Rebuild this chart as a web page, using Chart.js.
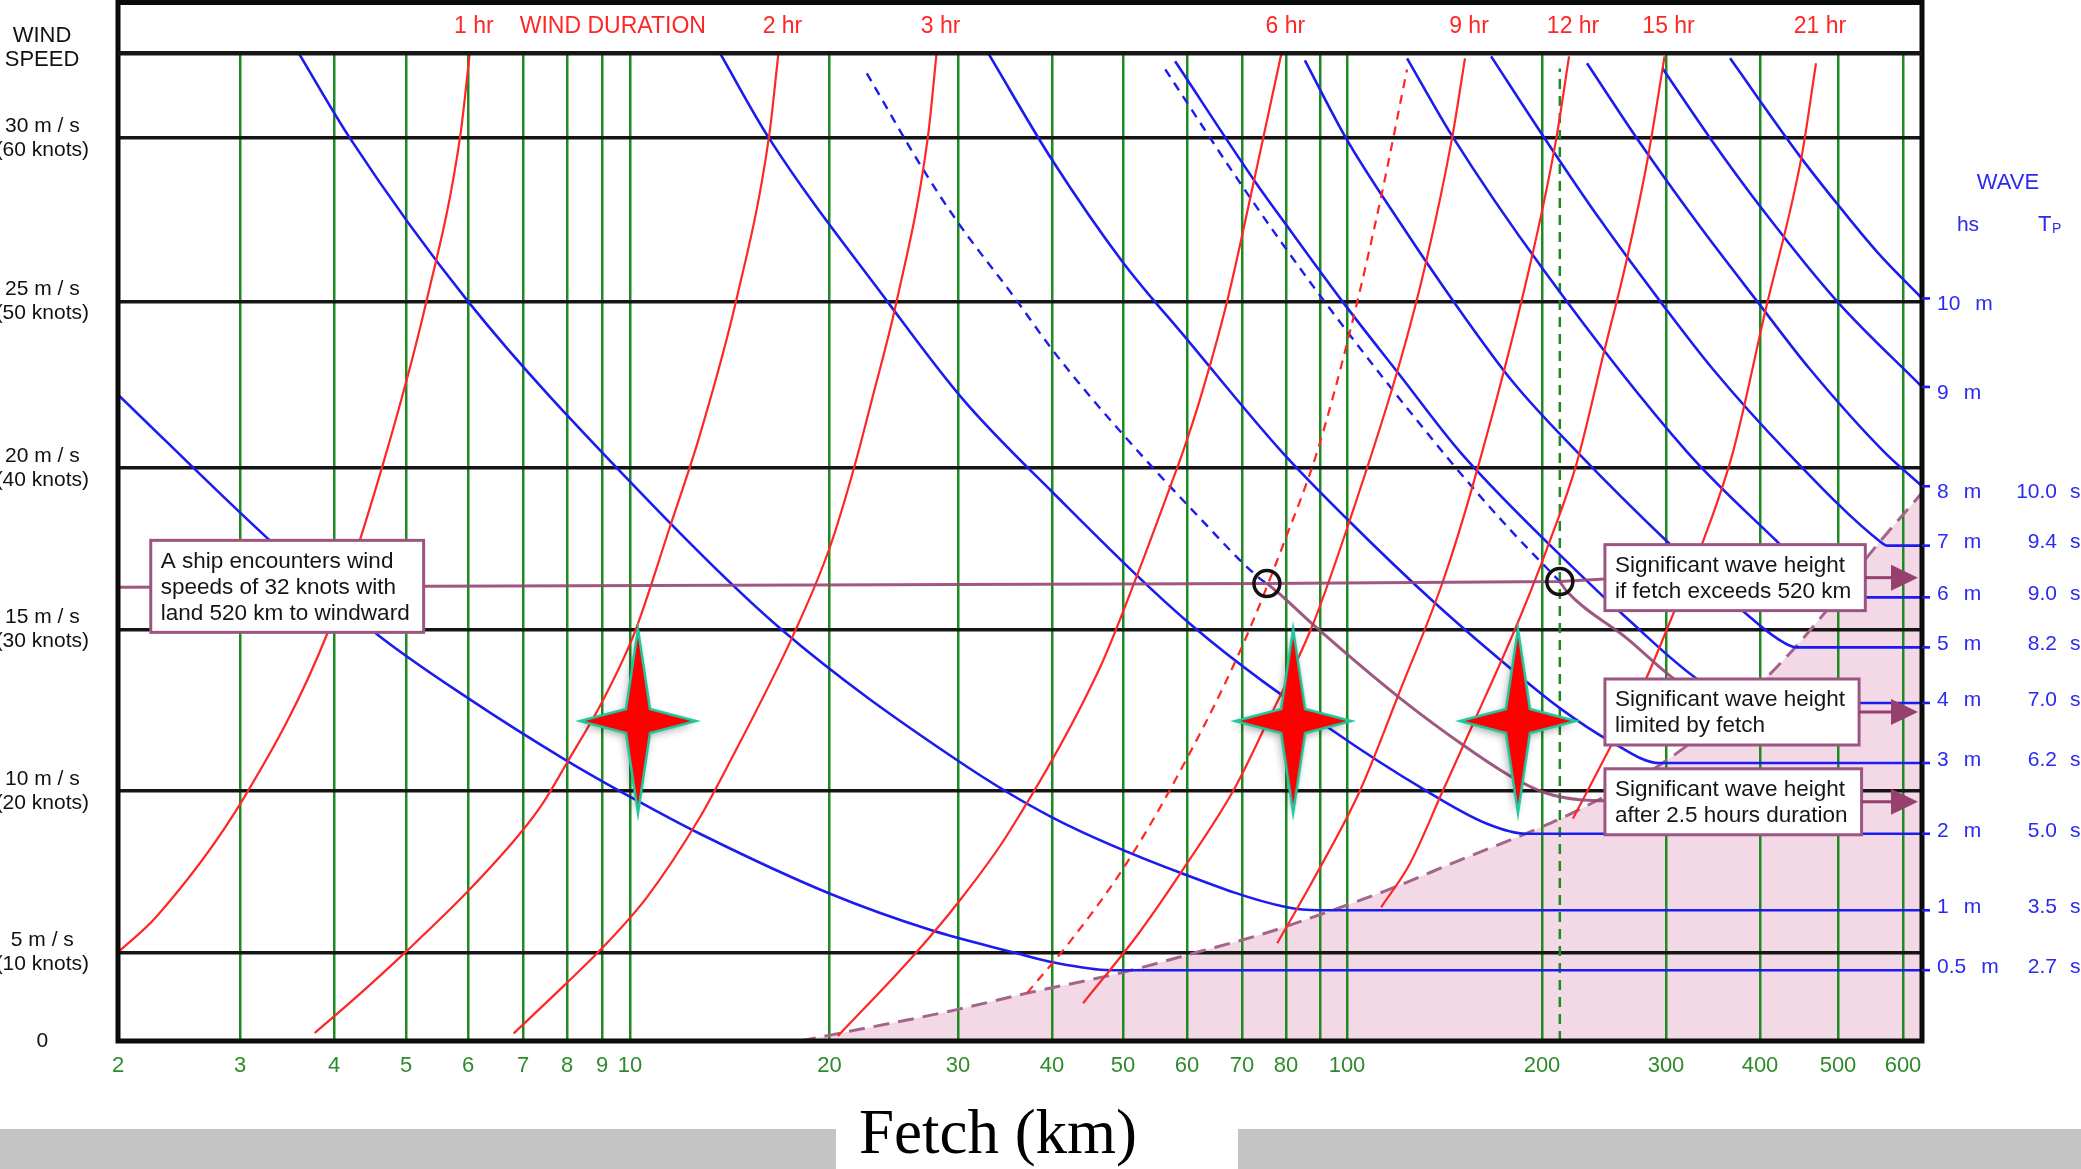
<!DOCTYPE html>
<html>
<head>
<meta charset="utf-8">
<title>Wave forecasting nomogram</title>
<style>
  html, body { margin: 0; padding: 0; background: #fff; overflow: hidden; }
  canvas { display: block; background: #fff; }
</style>
<script src="https://cdn.jsdelivr.net/npm/chart.js"></script>
</head>
<body>
<canvas id="nomogram" width="2081" height="1169" style="width:2081px;height:1169px"></canvas>
<script>
// ---------------------------------------------------------------------------
// Axis ticks
// ---------------------------------------------------------------------------
const FETCH_TICKS = [2, 3, 4, 5, 6, 7, 8, 9, 10, 20, 30, 40, 50, 60, 70, 80, 90, 100, 200, 300, 400, 500, 600];
const FETCH_TICK_LABELS = ['2', '3', '4', '5', '6', '7', '8', '9', '10', '20', '30', '40', '50', '60', '70', '80', '', '100', '200', '300', '400', '500', '600'];
const WIND_TICKS = [0, 5, 10, 15, 20, 25, 30];
const WIND_TICK_KNOTS = [0, 10, 20, 30, 40, 50, 60];

// ---------------------------------------------------------------------------
// Significant wave height isolines, [fetch km, wind m/s]
// ---------------------------------------------------------------------------
const WAVE_HEIGHTS = [0.5, 1, 2, 3, 4, 5, 6, 7, 8, 9, 10];
const PEAK_PERIODS = [2.7, 3.5, 5.0, 6.2, 7.0, 8.2, 9.0, 9.4, 10.0, null, null];

const HS_05 = [[2, 22.2], [3.27, 17.8], [4.57, 14.85], [6.0, 12.87], [8.0, 10.93], [10.14, 9.75], [12.75, 8.67], [20, 6.82], [27.6, 5.68], [35.5, 5.0], [40, 4.44], [48.1, 3.99], [60, 3.99], [633, 3.99]];
const HS_1 = [[3.59, 32.6], [4.2, 30], [6, 25], [10, 19.57], [16.84, 15.03], [30, 10.93], [40, 9.18], [59.2, 7.44], [80, 6.4], [90, 6.3], [100, 6.3], [633, 6.3]];
const HS_2 = [[13.67, 32.6], [16.2, 30], [24.0, 25.0], [30.5, 22.04], [40, 19.26], [61.4, 15.03], [94.8, 11.85], [131.2, 10.05], [164.5, 8.98], [189, 8.67], [215, 8.67], [633, 8.67]];
const HS_3 = [[32.9, 32.6], [40, 29.33], [50, 26.19], [60, 23.86], [79, 20.48], [101, 18.33], [135.9, 15.86], [178.5, 13.8], [212, 12.56], [249.8, 11.54], [294, 10.86], [330, 10.86], [633, 10.86]];
const HS_4 = [[58.0, 32.35], [73.0, 28.63], [80, 27.35], [98.5, 24.97], [120.7, 22.78], [149.4, 20.48], [226.5, 16.7], [264, 15.34], [332.9, 13.4], [382, 12.72], [420, 12.72], [633, 12.72]];
const HS_5 = [[85.4, 32.38], [100, 29.94], [120.7, 27.41], [145.3, 25.06], [180.5, 22.57], [224.3, 20.48], [301, 17.72], [384.4, 15.46], [420, 14.72], [444.6, 14.44], [480, 14.44], [633, 14.44]];
const HS_6 = [[123.8, 32.44], [145.3, 30.06], [200.7, 25.98], [319.9, 20.48], [420, 17.72], [497.2, 15.99], [540, 15.99], [633, 15.99]];
const HS_7 = [[166.9, 32.5], [200.7, 30.06], [241.8, 27.5], [295.1, 24.97], [346.4, 22.96], [432.1, 20.48], [562.6, 17.72], [573.7, 17.59], [633, 17.59]];
const HS_8 = [[231.7, 32.29], [275.5, 29.85], [329.9, 27.41], [397.5, 24.97], [461.5, 22.96], [569, 20.48], [633, 19.43]];
const HS_9 = [[296.7, 32.13], [343.2, 30], [405.8, 27.71], [500, 24.97], [633, 22.43]];
const HS_10 = [[365, 32.44], [448, 29.45], [500.8, 27.93], [558.9, 26.49], [633, 25.09]];
const HS_CURVES = [HS_05, HS_1, HS_2, HS_3, HS_4, HS_5, HS_6, HS_7, HS_8, HS_9, HS_10];

// intermediate (dashed) wave height lines
const HS_DASH_A = [[22.5, 31.98], [26.9, 29.02], [30.0, 27.41], [35.5, 25.18], [40, 23.56], [45.5, 22.04], [53.2, 20.27], [60.7, 18.73], [73.9, 16.57], [75.5, 16.42]];
const HS_DASH_B = [[56.4, 32.1], [70.6, 28.41], [90, 25.18], [141.7, 20.39], [177.9, 18.12], [212, 16.48]];

// ---------------------------------------------------------------------------
// Wind duration lines, [fetch km, wind m/s]
// ---------------------------------------------------------------------------
const DURATION_LABELS = ['1 hr', '2 hr', '3 hr', '6 hr', '9 hr', '12 hr', '15 hr', '21 hr'];
const DUR_1H = [[2, 5.0], [2.27, 6.09], [3.03, 9.75], [3.93, 14.94], [4.64, 20.0], [5.31, 25], [5.86, 30], [6.03, 32.6]];
const DUR_2H = [[3.77, 0.45], [4.24, 2.30], [5.0, 5.02], [6.01, 6.91], [6.99, 8.77], [7.47, 9.69], [8.0, 10.87], [9.02, 12.78], [10.14, 14.85], [11.47, 18.13], [12.75, 20.99], [14.44, 24.97], [16.2, 30], [16.75, 32.6]];
const DUR_3H = [[6.82, 0.43], [7.94, 3.15], [8.94, 5.06], [10.61, 6.71], [12.75, 9.18], [14.0, 10.72], [17.66, 14.85], [20, 17.51], [21.6, 19.98], [22.86, 22.04], [24.7, 24.97], [27.27, 30], [28.04, 32.6]];
const DUR_6H = [[20.54, 0.28], [25.95, 4.72], [29.94, 6.51], [34.96, 8.67], [46.5, 13.81], [52.1, 16.7], [57.4, 19.52], [59.3, 20.48], [62.2, 22.04], [67.1, 24.97], [72.5, 28.63], [78.9, 32.6]];
const DUR_9H = [[44.1, 2.13], [52.3, 5.59], [60, 7.75], [68.3, 10], [74.6, 11.85], [87.8, 15.15], [100, 18.12], [120.7, 23.17], [132.4, 26.19], [145.3, 30], [152.1, 32.44]];
const DUR_12H = [[77.9, 5.28], [87.8, 7.22], [104.7, 10], [120.7, 13.09], [140.6, 16.48], [156.5, 19.48], [191.6, 26.1], [209.4, 29.94], [218.5, 32.5]];
const DUR_15H = [[112.9, 6.39], [125.1, 7.75], [140.6, 10], [156.5, 12.07], [183, 15.15], [203.3, 17.5], [224.3, 20.18], [244.9, 23.47], [263.3, 26.19], [282.4, 29.33], [298.6, 32.5]];
const DUR_21H = [[221.3, 9.14], [249.8, 11.33], [280.1, 13.4], [306.5, 15.46], [336, 17.72], [368.3, 20.48], [405.8, 24.67], [450.7, 29.45], [469.5, 32.29]];
const DUR_CURVES = [DUR_1H, DUR_2H, DUR_3H, DUR_6H, DUR_9H, DUR_12H, DUR_15H, DUR_21H];
const DUR_DASH = [[37.06, 2.70], [42.46, 5.37], [50.1, 7.62], [57.7, 10.22], [69.6, 14.32], [80.3, 17.93], [89.1, 20.48], [101, 24.07], [112.4, 28.02], [123.8, 32.1]];

// fully developed sea limit
const FULLY_DEVELOPED = [[18.05, 0], [29.68, 1.74], [37.06, 2.70], [49.4, 3.82], [61.7, 5.0], [75.1, 5.59], [91.1, 6.2], [114.9, 6.91], [148.8, 7.84], [198.6, 8.86], [224, 9.38], [300, 10.93], [403.4, 13.4], [483.2, 15.56], [540.8, 17.19], [633, 19.23]];

// ---------------------------------------------------------------------------
// Worked example
// ---------------------------------------------------------------------------
const WIND_32KT = [[2, 16.3], [75.5, 16.42], [212, 16.48], [246, 16.56]];
const CHECK_POINTS = [[75.5, 16.42], [212, 16.48]];
const FETCH_LIMIT_PATH = [[212, 16.48], [217, 16.17], [264, 14.72], [306.5, 13.49], [325, 13.1]];
const DURATION_PATH = [[75.5, 16.42], [78.6, 16.08], [87.8, 15.15], [120.7, 12.87], [153.2, 11.33], [178.5, 10.46], [202, 9.94], [226.5, 9.72], [247.3, 9.69]];
const FETCH_GUIDE = [[212, 0], [212, 32.13]];
const STAR_POINTS = [[10.28, 12.16], [82, 12.16], [183.6, 12.16]];

const NOTE_SHIP = ['A ship encounters wind', 'speeds of 32 knots with', 'land 520 km to windward'];
const NOTE_FETCH = ['Significant wave height', 'if fetch exceeds 520 km'];
const NOTE_LIMIT = ['Significant wave height', 'limited by fetch'];
const NOTE_DURATION = ['Significant wave height', 'after 2.5 hours duration'];

// ---------------------------------------------------------------------------
// Nomogram graduations: position (0..1 along the axis) of each scale mark
// ---------------------------------------------------------------------------
const GRADUATION = {
  x: {
    log: true,
    values: [2, 3, 4, 5, 6, 7, 8, 9, 10, 20, 30, 40, 50, 60, 70, 80, 90, 100, 200, 300, 400, 500, 600, 633],
    marks: [0, 0.06763, 0.11973, 0.15965, 0.19401, 0.22450, 0.24889, 0.26829, 0.28381, 0.39440, 0.46563, 0.51774, 0.55710, 0.59257, 0.62306, 0.64745, 0.66630, 0.68126, 0.78936, 0.85809, 0.91020, 0.95344, 0.98947, 1],
    ticks: FETCH_TICKS
  },
  y: {
    log: false,
    values: [0, 5, 10, 15, 20, 25, 30, 32.6],
    marks: [0, 0.08981, 0.25328, 0.41675, 0.58022, 0.74874, 0.91423, 1],
    ticks: WIND_TICKS
  }
};

class GraduatedScale extends Chart.LinearScale {
  static id = 'graduated';
  static defaults = {};
  _grad() { return GRADUATION[this.id]; }
  _fwd(v) { return this._grad().log ? Math.log(v) : v; }
  toDecimal(v) {
    const g = this._grad(), vs = g.values, ms = g.marks;
    const t = this._fwd(v);
    let i = 0;
    while (i < vs.length - 2 && t > this._fwd(vs[i + 1])) i++;
    const a = this._fwd(vs[i]), b = this._fwd(vs[i + 1]);
    return ms[i] + (t - a) / (b - a) * (ms[i + 1] - ms[i]);
  }
  fromDecimal(d) {
    const g = this._grad(), vs = g.values, ms = g.marks;
    let i = 0;
    while (i < ms.length - 2 && d > ms[i + 1]) i++;
    const a = this._fwd(vs[i]), b = this._fwd(vs[i + 1]);
    const t = a + (d - ms[i]) / (ms[i + 1] - ms[i]) * (b - a);
    return g.log ? Math.exp(t) : t;
  }
  getPixelForValue(v) {
    return (v === null || !isFinite(v)) ? NaN : this.getPixelForDecimal(this.toDecimal(v));
  }
  getValueForPixel(p) { return this.fromDecimal(this.getDecimalForPixel(p)); }
  buildTicks() { return this._grad().ticks.map(v => ({ value: v })); }
}
Chart.register(GraduatedScale);

// ---------------------------------------------------------------------------
// Styling
// ---------------------------------------------------------------------------
const W = 2081, H = 1169;
const SANS = '"Liberation Sans", Arial, Helvetica, sans-serif';
const BLUE = '#1c1cf0';
const RED = '#ff2626';
const GRID_GREEN = '#1f8a22';
const MAUVE = 'rgba(150, 70, 115, 0.9)';
const BOX_EDGE = '#9c5482';
const ARROW = '#973f6d';
const PINK = '#f3d8e5';
const LABEL_BLUE = '#2a2af0';

Chart.defaults.font.family = SANS;

function makeStar() {
  const armV = 92, armH = 58, waist = 12, m = 14;
  const c = document.createElement('canvas');
  c.width = 2 * (armH + m);
  c.height = 2 * (armV + m);
  const g = c.getContext('2d');
  g.translate(c.width / 2, c.height / 2);
  g.beginPath();
  g.moveTo(0, -armV); g.lineTo(waist, -waist); g.lineTo(armH, 0); g.lineTo(waist, waist);
  g.lineTo(0, armV); g.lineTo(-waist, waist); g.lineTo(-armH, 0); g.lineTo(-waist, -waist);
  g.closePath();
  g.shadowColor = 'rgba(0,0,0,0.35)';
  g.shadowBlur = 8; g.shadowOffsetX = -2; g.shadowOffsetY = 3;
  g.fillStyle = '#ff0000';
  g.fill();
  g.shadowColor = 'transparent';
  g.lineWidth = 2.5;
  g.strokeStyle = '#1ec79c';
  g.stroke();
  return c;
}

const pts = arr => arr.map(([f, w]) => ({ x: f, y: w }));
const curve = (arr, color, width, dash, order, extra) => Object.assign({
  data: pts(arr), showLine: true, borderColor: color, borderWidth: width,
  borderDash: dash || [], pointRadius: 0, pointHoverRadius: 0, fill: false,
  cubicInterpolationMode: 'monotone', order
}, extra || {});

const datasets = [
  { data: pts(STAR_POINTS), pointStyle: makeStar(), pointRadius: 10, showLine: false, order: 0 },
  { data: pts(CHECK_POINTS), pointStyle: 'circle', pointRadius: 13, pointBorderWidth: 3.5,
    pointBorderColor: '#111', pointBackgroundColor: 'rgba(0,0,0,0)', showLine: false, order: 1 },
  curve(WIND_32KT, MAUVE, 3, null, 2, { cubicInterpolationMode: 'default', tension: 0 }),
  curve(DURATION_PATH, MAUVE, 3, null, 2),
  curve(FETCH_LIMIT_PATH, MAUVE, 3, null, 2),
  ...DUR_CURVES.map(c => curve(c, RED, 2.2, null, 3)),
  curve(DUR_DASH, RED, 2.2, [9, 7], 3),
  ...HS_CURVES.map(c => curve(c, BLUE, 2.6, null, 4)),
  curve(HS_DASH_A, BLUE, 2.4, [9, 7], 4),
  curve(HS_DASH_B, BLUE, 2.4, [9, 7], 4),
  curve(FETCH_GUIDE, GRID_GREEN, 2.5, [10, 7], 5, { cubicInterpolationMode: 'default', tension: 0 }),
  curve(FULLY_DEVELOPED, '#a3668a', 3, [16, 9], 6, { fill: 'start', backgroundColor: PINK })
];

function drawNote(ctx, lines, left, cy) {
  ctx.font = '22.5px ' + SANS;
  const lh = 26;
  const w = Math.max(...lines.map(t => ctx.measureText(t).width)) + 24;
  const h = lines.length * lh + 14;
  const top = cy - h / 2;
  ctx.fillStyle = '#fff';
  ctx.fillRect(left, top, w, h);
  ctx.lineWidth = 3;
  ctx.strokeStyle = BOX_EDGE;
  ctx.strokeRect(left, top, w, h);
  ctx.fillStyle = '#151515';
  ctx.textAlign = 'left';
  ctx.textBaseline = 'middle';
  lines.forEach((t, i) => ctx.fillText(t, left + 10, cy + (i - (lines.length - 1) / 2) * lh + 1));
  return left + w;
}

function drawArrow(ctx, x0, x1, yc) {
  ctx.strokeStyle = ARROW;
  ctx.lineWidth = 3;
  ctx.beginPath();
  ctx.moveTo(x0, yc);
  ctx.lineTo(x1 - 22, yc);
  ctx.stroke();
  ctx.fillStyle = ARROW;
  ctx.beginPath();
  ctx.moveTo(x1 - 27, yc - 13);
  ctx.lineTo(x1, yc);
  ctx.lineTo(x1 - 27, yc + 13);
  ctx.closePath();
  ctx.fill();
}

const NOTES = [
  { lines: NOTE_SHIP, fetch: 2.23, wind: 16.33, arrow: false },
  { lines: NOTE_FETCH, fetch: 245.7, wind: 16.6, arrow: true },
  { lines: NOTE_LIMIT, fetch: 245.7, wind: 12.44, arrow: true },
  { lines: NOTE_DURATION, fetch: 245.7, wind: 9.66, arrow: true }
];

const decor = {
  id: 'decor',
  beforeDraw(chart) {
    const ctx = chart.ctx;
    ctx.save();
    ctx.fillStyle = '#c4c4c4';
    ctx.fillRect(0, 1129, 836, H - 1129);
    ctx.fillRect(1238, 1129, W - 1238, H - 1129);
    ctx.restore();
  },
  afterDraw(chart) {
    const { ctx, chartArea: a, scales: { x, y } } = chart;
    ctx.save();

    // callouts
    NOTES.forEach(n => {
      const cy = y.getPixelForValue(n.wind);
      const right = drawNote(ctx, n.lines, x.getPixelForValue(n.fetch), cy);
      if (n.arrow) drawArrow(ctx, right, a.right - 4, cy);
    });

    // outer frame and header rule
    ctx.strokeStyle = '#0b0b0b';
    ctx.lineWidth = 5;
    ctx.beginPath();
    ctx.moveTo(a.left, a.bottom);
    ctx.lineTo(a.left, 2.5);
    ctx.lineTo(a.right, 2.5);
    ctx.lineTo(a.right, a.bottom);
    ctx.closePath();
    ctx.stroke();
    ctx.lineWidth = 4.5;
    ctx.strokeStyle = '#161616';
    ctx.beginPath();
    ctx.moveTo(a.left, a.top);
    ctx.lineTo(a.right, a.top);
    ctx.stroke();

    // duration labels at the top of each duration line
    ctx.fillStyle = RED;
    ctx.font = '23px ' + SANS;
    ctx.textBaseline = 'middle';
    ctx.textAlign = 'center';
    DUR_CURVES.forEach((c, i) => {
      const top = c[c.length - 1];
      ctx.fillText(DURATION_LABELS[i], x.getPixelForValue(top[0]) + 4, 27);
    });
    ctx.textAlign = 'left';
    ctx.fillText('WIND DURATION', x.getPixelForValue(DUR_1H[DUR_1H.length - 1][0]) + 50, 27);

    // wind speed heading
    ctx.fillStyle = '#111';
    ctx.font = '22px ' + SANS;
    ctx.textAlign = 'center';
    ctx.fillText('WIND', 42, 36);
    ctx.fillText('SPEED', 42, 60);

    // wave heading and labels on the right
    ctx.fillStyle = LABEL_BLUE;
    ctx.fillText('WAVE', a.right + 86, 183);
    ctx.font = '21px ' + SANS;
    ctx.fillText('hs', a.right + 46, 225);
    ctx.textAlign = 'left';
    ctx.font = '22px ' + SANS;
    ctx.fillText('T', a.right + 116, 225);
    ctx.font = '14px ' + SANS;
    ctx.fillText('P', a.right + 130, 229);

    ctx.font = '21px ' + SANS;
    HS_CURVES.forEach((c, i) => {
      const end = c[c.length - 1], prev = c[c.length - 2];
      const py = y.getPixelForValue(end[1]);
      ctx.strokeStyle = BLUE;
      ctx.lineWidth = 2.6;
      ctx.beginPath();
      ctx.moveTo(a.right, py);
      ctx.lineTo(a.right + 8, py);
      ctx.stroke();
      // labels sit just above a level line, just below a line still falling
      const ly = py + (end[1] === prev[1] ? -3 : 6);
      const num = String(WAVE_HEIGHTS[i]);
      ctx.textAlign = 'left';
      const x0 = a.right + 15;
      ctx.fillText(num, x0, ly);
      ctx.fillText('m', x0 + ctx.measureText(num).width + 15, ly);
      if (PEAK_PERIODS[i] !== null) {
        ctx.textAlign = 'right';
        ctx.fillText(PEAK_PERIODS[i].toFixed(1), a.right + 135, ly);
        ctx.textAlign = 'left';
        ctx.fillText('s', a.right + 148, ly);
      }
    });

    // axis title
    ctx.fillStyle = '#000';
    ctx.font = '63px "Liberation Serif", "Times New Roman", serif';
    ctx.textAlign = 'center';
    ctx.textBaseline = 'alphabetic';
    ctx.fillText('Fetch (km)', 998, 1153);

    ctx.restore();
  }
};

new Chart(document.getElementById('nomogram'), {
  type: 'scatter',
  data: { datasets },
  options: {
    responsive: false,
    animation: false,
    devicePixelRatio: 1,
    events: [],
    layout: { padding: { left: 0, top: 50, right: W - 1922, bottom: 0 }, autoPadding: false },
    plugins: {
      legend: { display: false },
      tooltip: { enabled: false },
      filler: { drawTime: 'beforeDraw' }
    },
    scales: {
      x: {
        type: 'graduated',
        min: 2,
        max: 633,
        afterFit: s => { s.height = H - 1041; },
        grid: { color: GRID_GREEN, lineWidth: 2.5, drawTicks: false },
        border: { display: false },
        ticks: {
          autoSkip: false, maxRotation: 0, minRotation: 0, padding: 12,
          color: '#2f8a2c', font: { size: 22 },
          callback: (v, i) => FETCH_TICK_LABELS[i]
        }
      },
      y: {
        type: 'graduated',
        min: 0,
        max: 32.6,
        afterFit: s => { s.width = 118; },
        grid: { color: '#151515', lineWidth: 3.5, drawTicks: false },
        border: { display: false },
        ticks: {
          autoSkip: false, crossAlign: 'center', padding: 29,
          color: '#111', font: { size: 21, lineHeight: 1.15 },
          callback: (v, i) => i === 0 ? '0' : [v + ' m / s', '(' + WIND_TICK_KNOTS[i] + ' knots)']
        }
      }
    }
  },
  plugins: [decor]
});
</script>
</body>
</html>
